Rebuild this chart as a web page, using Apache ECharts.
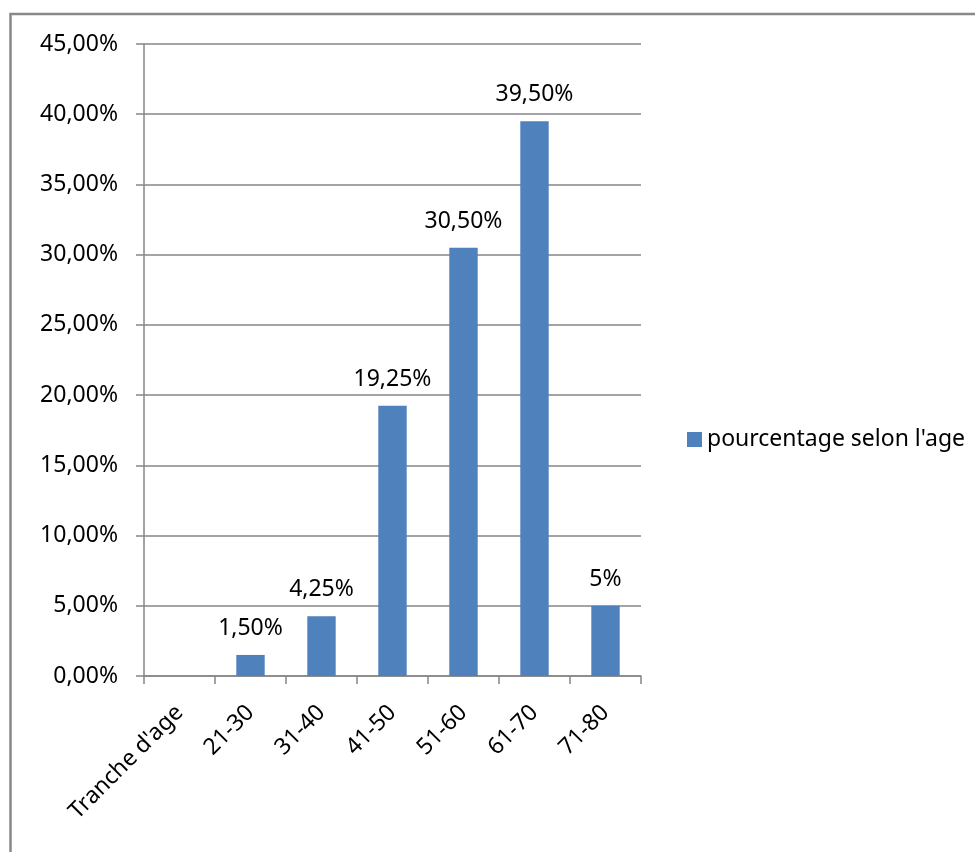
<!DOCTYPE html>
<html><head><meta charset="utf-8">
<script src="https://cdn.jsdelivr.net/npm/echarts@6/dist/echarts.min.js"></script>
<style>html,body{margin:0;padding:0;background:#fff}#c{width:975px;height:852px}</style>
</head><body><div id="c"></div>
<script>
const categories = ["Tranche d'age", "21-30", "31-40", "41-50", "51-60", "61-70", "71-80"];
const values = [null, 1.5, 4.25, 19.25, 30.5, 39.5, 5];
const valueLabels = ["", "1,50%", "4,25%", "19,25%", "30,50%", "39,50%", "5%"];
const yTicks = [0, 5, 10, 15, 20, 25, 30, 35, 40, 45];
const seriesName = "pourcentage selon l'age";

const FONT = "Noto Sans";
const FS = 23;
const chart = echarts.init(document.getElementById('c'), null, {renderer: 'canvas'});
chart.setOption({
  animation: false,
  backgroundColor: '#fff',
  graphic: [{
    type: 'rect', silent: true, z: -1,
    shape: {x: 10.5, y: 14, width: 1200, height: 1200},
    style: {fill: 'none', stroke: '#888888', lineWidth: 2.5}
  }],
  legend: {
    data: [seriesName],
    left: 682, top: 423,
    itemWidth: 15, itemHeight: 15, itemGap: 7,
    icon: 'rect',
    textStyle: {fontFamily: FONT, fontSize: FS, color: '#000'}
  },
  grid: {left: 144, right: 334, top: 44, bottom: 176, containLabel: false},
  xAxis: {
    type: 'category', data: categories,
    axisLine: {lineStyle: {color: '#868686', width: 1.5}},
    axisTick: {show: true, length: 8, alignWithLabel: false, lineStyle: {color: '#868686', width: 1.5}},
    axisLabel: {rotate: 45, margin: 33, interval: 0, fontFamily: FONT, fontSize: FS, color: '#000'}
  },
  yAxis: {
    type: 'value', min: yTicks[0], max: yTicks[yTicks.length - 1], interval: 5,
    axisLine: {show: true, lineStyle: {color: '#868686', width: 1.5}},
    axisTick: {show: true, length: 8, lineStyle: {color: '#868686', width: 1.5}},
    splitLine: {lineStyle: {color: '#868686', width: 1.5}},
    axisLabel: {margin: 26, fontFamily: FONT, fontSize: FS, color: '#000',
      formatter: v => v.toFixed(2).replace('.', ',') + '%'}
  },
  series: [{
    name: seriesName, type: 'bar', data: values, barWidth: '40%',
    itemStyle: {color: '#4F81BD'},
    label: {show: true, position: 'top', distance: 15, fontFamily: FONT, fontSize: FS, color: '#000',
      formatter: p => valueLabels[p.dataIndex]}
  }]
});
</script></body></html>
